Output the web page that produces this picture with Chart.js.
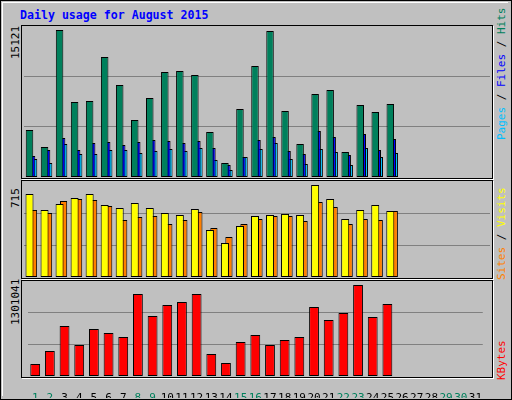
<!DOCTYPE html>
<html>
<head>
<meta charset="utf-8">
<script src="https://cdn.jsdelivr.net/npm/chart.js@4"></script>
<style>
  body { margin: 0; }
  #wrap { position: relative; width: 510px; height: 398px; background: #C0C0C0; border: 1px solid #000; overflow: hidden; }
  #inner { position: absolute; left: 1px; top: 1px; right: 3px; bottom: 3px; border-top: 1px solid #fff; border-left: 1px solid #fff; }
  .panel { position: absolute; left: 20px; width: 470px; border: 1px solid #000; box-shadow: 1px 1px 0 #fff; }
  .lbl { position: absolute; font-family: "DejaVu Sans Mono", monospace; font-size: 11px; white-space: nowrap; transform-origin: 0 0; transform: rotate(-90deg); }
  #title { position: absolute; left: 19px; top: 7px; font: bold 11.6px "DejaVu Sans Mono", monospace; color: #0000FF; }
  canvas { position: absolute; }
</style>
</head>
<body>
<div id="wrap">
  <div id="inner"></div>
  <div id="title">Daily usage for August 2015</div>
  <div class="panel" style="top:24px;height:152px"></div>
  <div class="panel" style="top:179px;height:97px"></div>
  <div class="panel" style="top:279px;height:96px"></div>
  <div class="lbl" style="left:8px;top:58px">15121</div>
  <div class="lbl" style="left:8px;top:207px">715</div>
  <div class="lbl" style="left:8px;top:324px">1301041</div>
  <div class="lbl" style="left:494px;top:139px"><span style="color:#00C0FF">Pages</span><span style="color:#000"> / </span><span style="color:#0000FF">Files</span><span style="color:#000"> / </span><span style="color:#00805C">Hits</span></div>
  <div class="lbl" style="left:494px;top:279px"><span style="color:#FF8000">Sites</span><span style="color:#000"> / </span><span style="color:#FFFF00">Visits</span></div>
  <div class="lbl" style="left:494px;top:379px;color:#FF0000">KBytes</div>
  <canvas id="c1" style="left:23px;top:25px;width:466px;height:151px"></canvas>
  <canvas id="c2" style="left:23px;top:180px;width:466px;height:96px"></canvas>
  <canvas id="c3" style="left:23px;top:280px;width:466px;height:117px"></canvas>
</div>
<script>
const days = Array.from({ length: 31 }, (_, i) => String(i + 1));
const weekend = ["1", "2", "8", "9", "15", "16", "22", "23", "29", "30"];

const hits = [4835, 3086, 15121, 7715, 7818, 12344, 9463, 5863, 8126, 10801, 10904, 10492, 4629, 1440, 6995, 11418, 15018, 6789, 3394, 8537, 8949, 2571, 7406, 6686, 7509];
const files = [2160, 2777, 4012, 2777, 3497, 3600, 3291, 3600, 3806, 3703, 3497, 3703, 2983, 1234, 2057, 3806, 4114, 2674, 2366, 4732, 4114, 2263, 4423, 2777, 3909];
const pages = [1851, 1440, 3394, 2366, 2366, 2777, 2777, 2469, 2674, 2880, 2674, 2983, 1749, 720, 2057, 2880, 3497, 1851, 1337, 2880, 2571, 1234, 2983, 2057, 2469];
const visits = [645, 521, 567, 614, 645, 560, 536, 575, 536, 497, 482, 528, 365, 264, 396, 474, 482, 490, 482, 715, 606, 451, 521, 560, 513];
const sites = [521, 497, 591, 606, 598, 552, 443, 466, 474, 412, 443, 505, 381, 311, 412, 451, 474, 474, 435, 583, 544, 412, 451, 443, 513];
const kbytes = [171566, 357429, 714857, 443216, 671965, 614777, 557589, 1172364, 857827, 1015103, 1057994, 1172364, 314538, 185863, 486108, 586182, 443216, 514700, 557589, 986500, 800640, 900720, 1301041, 843530, 1029400];

function yScale(max) {
  return {
    min: 0, max: max,
    ticks: { display: false },
    border: { display: false },
    grid: { color: "#808080", drawTicks: false, lineWidth: 1 },
    afterBuildTicks: axis => { axis.ticks = [{ value: max / 3 }, { value: max * 2 / 3 }]; }
  };
}

function bar(label, data, color, bp, cp) {
  return { label, data, backgroundColor: color, borderColor: "#000", borderWidth: 1, borderSkipped: false, barPercentage: bp, categoryPercentage: cp };
}

const common = {
  responsive: false, animation: false,
  layout: { padding: 0 },
  plugins: { legend: { display: false }, tooltip: { enabled: false } }
};

function make(id, w, h, datasets, max, showX) {
  const cv = document.getElementById(id);
  cv.width = w; cv.height = h;
  new Chart(cv, {
    type: "bar",
    data: { labels: days, datasets },
    options: Object.assign({}, common, {
      scales: {
        x: showX ? {
          grid: { display: false }, border: { display: false },
          afterFit: axis => { axis.height = 22; },
          ticks: {
            autoSkip: false, maxRotation: 0, padding: 8,
            font: { family: "DejaVu Sans Mono", size: 11 },
            color: ctx => weekend.includes(days[ctx.index]) ? "#00805C" : "#000"
          }
        } : { display: false },
        y: yScale(max)
      }
    })
  });
}

make("c1", 466, 151, [
  bar("Hits", hits, "#00805C", 3.75, 0.4),
  bar("Files", files, "#0000FF", 3.75, 0.4),
  bar("Pages", pages, "#00C0FF", 3.75, 0.4)
], 15121 * 151 / 147, false);

make("c2", 466, 96, [
  bar("Visits", visits, "#FFFF00", 2.0, 0.533),
  bar("Sites", sites, "#FF8000", 1.8, 0.533)
], 715 * 96 / 92, false);

make("c3", 466, 117, [
  bar("KBytes", kbytes, "#FF0000", 1.0, 0.67)
], 1301041 * 95 / 91, true);
</script>
</body>
</html>
